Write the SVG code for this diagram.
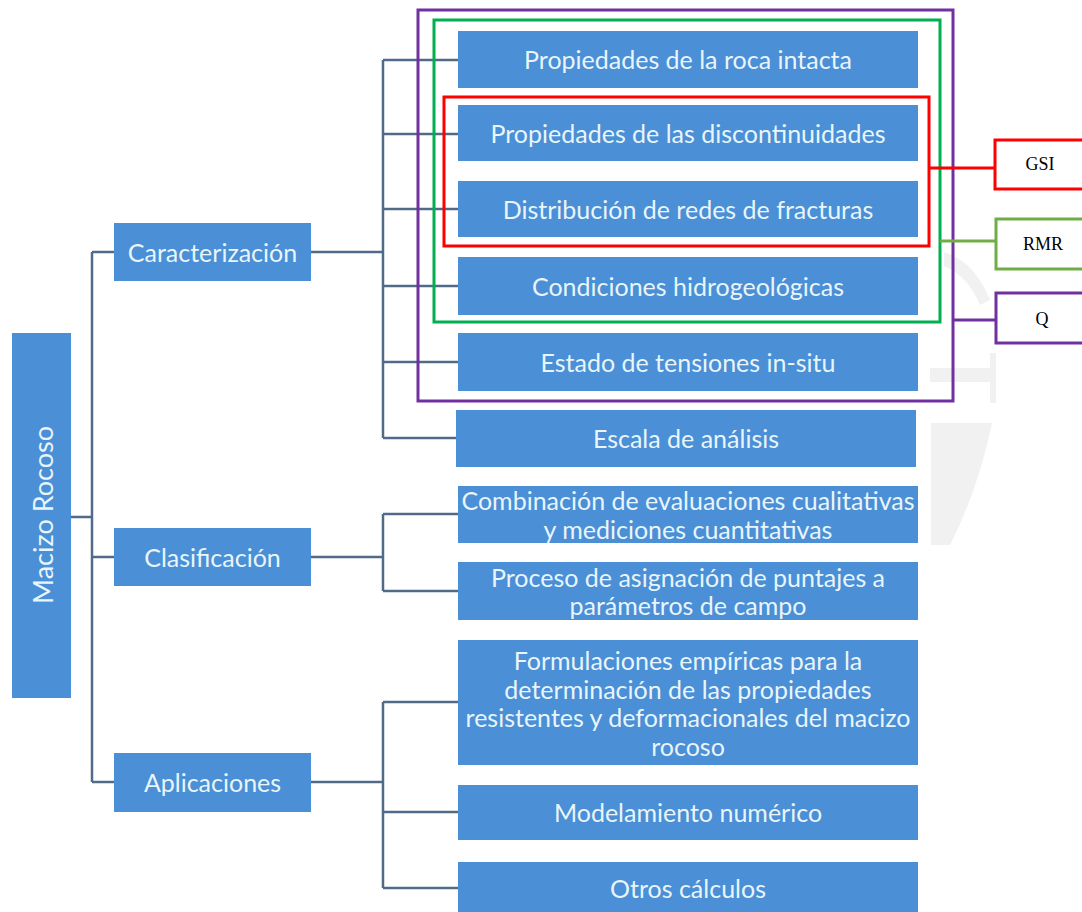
<svg xmlns="http://www.w3.org/2000/svg" width="1082" height="912" viewBox="0 0 1082 912">
  <style>
    .box { fill: #4b8fd6; }
    .lbl { font-family: Lato, "Open Sans", sans-serif; fill: #e8f5fa; text-anchor: middle; dominant-baseline: central; }
    .l1 { font-size: 25px; }
    .l2 { font-size: 25px; }
    .wire { fill: none; stroke: #4f6b88; stroke-width: 2.5; }
    .tag { fill: #ffffff; stroke-width: 3; }
    .tagtxt { font-family: "Liberation Serif", "Times New Roman", serif; font-size: 18px; fill: #000; text-anchor: middle; dominant-baseline: central; }
    .mark { fill: #f1f1f1; }
  </style>
  <rect width="1082" height="912" fill="#ffffff"/>

  <!-- faint background emblem -->
  <g id="emblem">
    <path class="mark" d="M930 368 H990 V353 H996 V403 H990 V382 H930 Z"/>
    <path class="mark" d="M931 423 H992 Q978 490 950 545 H931 Z"/>
    <path class="mark" d="M944 252 Q975 262 990 300 L980 305 Q968 276 944 266 Z"/>
  </g>

  <!-- tree connectors -->
  <g id="connectors">
    <path class="wire" d="M71 517 H92 M92 252 V782 M92 252 H114 M92 557 H114 M92 782 H114"/>
    <path class="wire" d="M311 252 H383 M383 60 V438 M383 60 H458 M383 134 H458 M383 209 H458 M383 286 H458 M383 362 H458 M383 438 H458"/>
    <path class="wire" d="M311 557 H383 M383 514 V591 M383 514 H458 M383 591 H458"/>
    <path class="wire" d="M311 782 H383 M383 702 V888 M383 702 H458 M383 812 H458 M383 888 H458"/>
  </g>

  <!-- root -->
  <g id="macizo">
    <rect class="box" x="12" y="333" width="59" height="365"/>
    <text class="lbl" font-size="27" transform="translate(42 515) rotate(-90)">Macizo Rocoso</text>
  </g>

  <!-- first level -->
  <g id="caracterizacion">
    <rect class="box" x="114" y="223" width="197" height="58"/>
    <text class="lbl l1" x="212.5" y="252">Caracterización</text>
  </g>
  <g id="clasificacion">
    <rect class="box" x="114" y="528" width="197" height="58"/>
    <text class="lbl l1" x="212.5" y="557">Clasificación</text>
  </g>
  <g id="aplicaciones">
    <rect class="box" x="114" y="753" width="197" height="59"/>
    <text class="lbl l1" x="212.5" y="782">Aplicaciones</text>
  </g>

  <!-- second level -->
  <g id="roca-intacta">
    <rect class="box" x="458" y="31" width="460" height="57"/>
    <text class="lbl l2" x="688" y="59">Propiedades de la roca intacta</text>
  </g>
  <g id="discontinuidades">
    <rect class="box" x="458" y="105" width="460" height="56"/>
    <text class="lbl l2" x="688" y="133">Propiedades de las discontinuidades</text>
  </g>
  <g id="fracturas">
    <rect class="box" x="458" y="181" width="460" height="56"/>
    <text class="lbl l2" x="688" y="209">Distribución de redes de fracturas</text>
  </g>
  <g id="hidrogeologicas">
    <rect class="box" x="458" y="257" width="460" height="58"/>
    <text class="lbl l2" x="688" y="286">Condiciones hidrogeológicas</text>
  </g>
  <g id="tensiones">
    <rect class="box" x="458" y="333" width="460" height="58"/>
    <text class="lbl l2" x="688" y="362">Estado de tensiones in-situ</text>
  </g>
  <g id="escala">
    <rect class="box" x="456" y="410" width="460" height="57"/>
    <text class="lbl l2" x="686" y="438">Escala de análisis</text>
  </g>
  <g id="combinacion">
    <rect class="box" x="458" y="486" width="460" height="57"/>
    <text class="lbl l2" x="688" y="500">Combinación de evaluaciones cualitativas</text>
    <text class="lbl l2" x="688" y="529">y mediciones cuantitativas</text>
  </g>
  <g id="puntajes">
    <rect class="box" x="458" y="562" width="460" height="58"/>
    <text class="lbl l2" x="688" y="577">Proceso de asignación de puntajes a</text>
    <text class="lbl l2" x="688" y="605">parámetros de campo</text>
  </g>
  <g id="formulaciones">
    <rect class="box" x="458" y="640" width="460" height="125"/>
    <text class="lbl l2" x="688" y="660">Formulaciones empíricas para la</text>
    <text class="lbl l2" x="688" y="689">determinación de las propiedades</text>
    <text class="lbl l2" x="688" y="717">resistentes y deformacionales del macizo</text>
    <text class="lbl l2" x="688" y="746">rocoso</text>
  </g>
  <g id="modelamiento">
    <rect class="box" x="458" y="785" width="460" height="55"/>
    <text class="lbl l2" x="688" y="812">Modelamiento numérico</text>
  </g>
  <g id="otros">
    <rect class="box" x="458" y="862" width="460" height="56"/>
    <text class="lbl l2" x="688" y="888">Otros cálculos</text>
  </g>

  <!-- classification scopes -->
  <g id="scope-q">
    <rect x="418" y="10" width="535" height="391" fill="none" stroke="#7030a0" stroke-width="3"/>
    <path d="M953 320 H996" stroke="#7030a0" stroke-width="3"/>
    <rect class="tag" x="996" y="293" width="100" height="50" stroke="#7030a0"/>
    <text class="tagtxt" x="1042" y="319">Q</text>
  </g>
  <g id="scope-rmr">
    <rect x="434" y="20" width="506" height="302" fill="none" stroke="#00b050" stroke-width="3"/>
    <path d="M940 241 H996" stroke="#70ad47" stroke-width="3"/>
    <rect class="tag" x="996" y="219" width="100" height="50" stroke="#70ad47"/>
    <text class="tagtxt" x="1043" y="244">RMR</text>
  </g>
  <g id="scope-gsi">
    <rect x="444" y="97" width="485" height="149" fill="none" stroke="#ff0000" stroke-width="3"/>
    <path d="M929 168 H995" stroke="#ff0000" stroke-width="3"/>
    <rect class="tag" x="995" y="140" width="100" height="49" stroke="#ff0000"/>
    <text class="tagtxt" x="1040" y="164">GSI</text>
  </g>
</svg>
